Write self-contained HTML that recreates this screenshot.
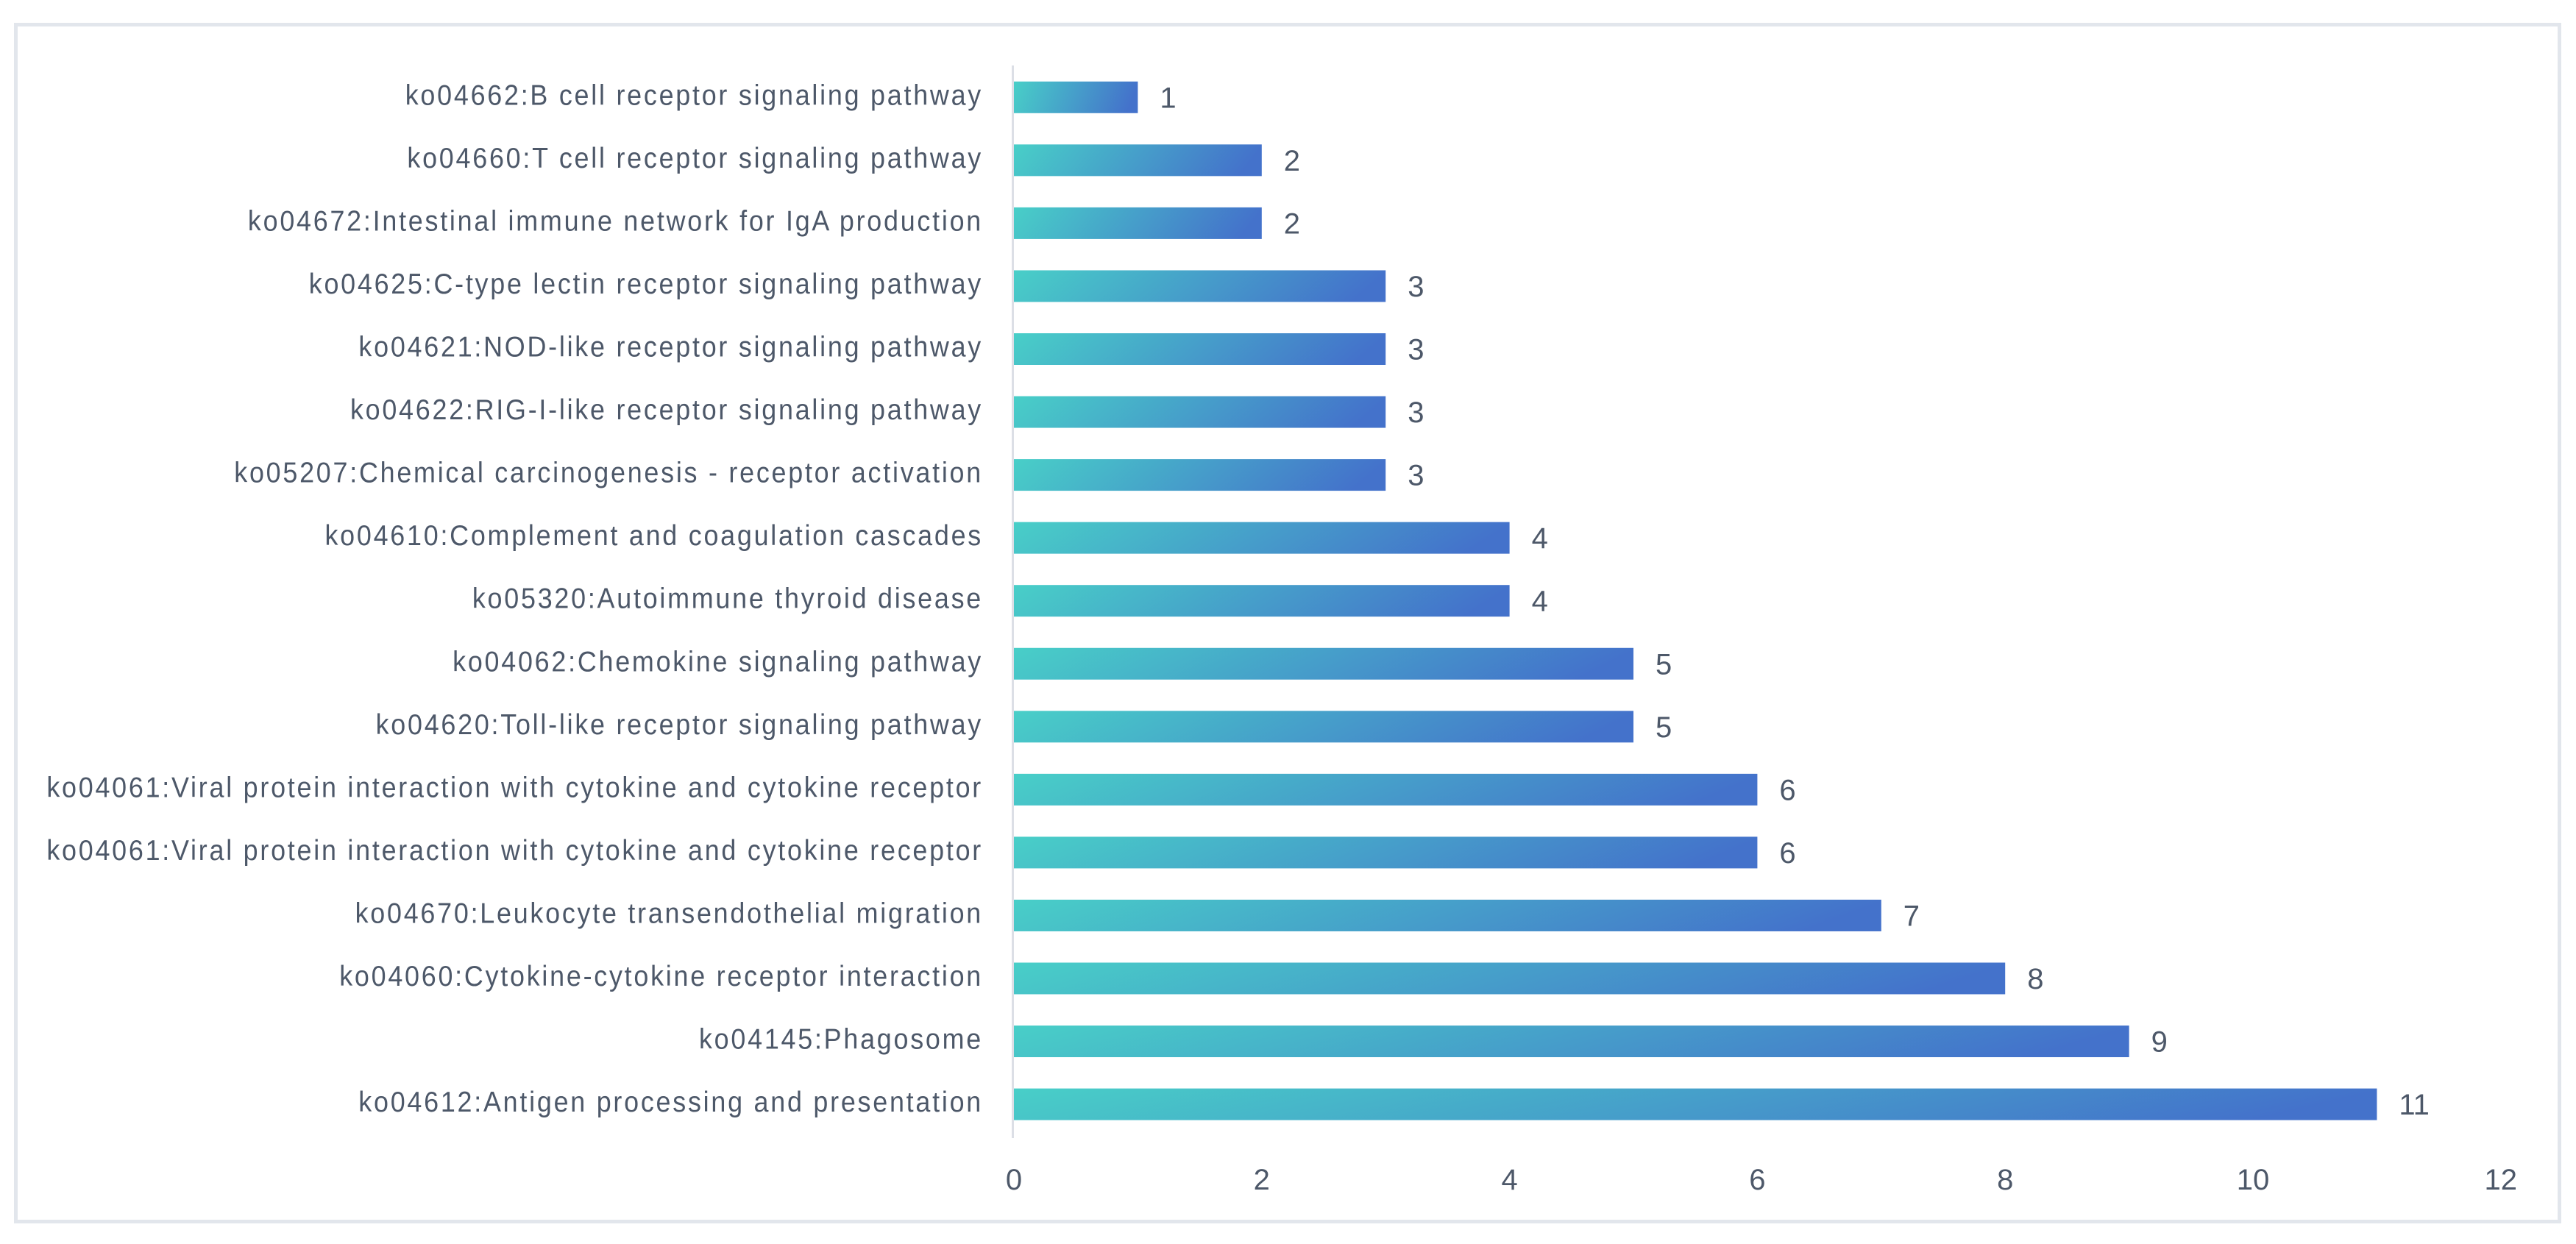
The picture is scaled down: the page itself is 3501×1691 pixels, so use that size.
<!DOCTYPE html>
<html lang="en">
<head>
<meta charset="utf-8">
<title>KEGG pathway bar chart</title>
<style>
html,body{margin:0;padding:0;background:#fff;width:3501px;height:1691px;overflow:hidden}
svg{display:block}
text{font-family:"Liberation Sans",sans-serif}
</style>
</head>
<body>
<svg id="chart" xmlns="http://www.w3.org/2000/svg" width="3501" height="1691" viewBox="0 0 3501 1691">
  <defs>
    <linearGradient id="barGradient" x1="0" y1="0" x2="1" y2="0.1">
      <stop offset="0" stop-color="#48cfc8"/>
      <stop offset="1" stop-color="#4472cb"/>
    </linearGradient>
  </defs>
  <rect x="21.5" y="33.5" width="3457" height="1627" fill="#fff" stroke="#e2e6ec" stroke-width="5"/>
  <g id="bars"></g>
  <g id="labels"></g>
  <g id="values"></g>
  <g id="ticks"></g>
  <rect x="1375" y="89" width="3" height="1458" fill="#dcdfe6"/>
</svg>
<script>
const categories = [
  "ko04662:B cell receptor signaling pathway",
  "ko04660:T cell receptor signaling pathway",
  "ko04672:Intestinal immune network for IgA production",
  "ko04625:C-type lectin receptor signaling pathway",
  "ko04621:NOD-like receptor signaling pathway",
  "ko04622:RIG-I-like receptor signaling pathway",
  "ko05207:Chemical carcinogenesis - receptor activation",
  "ko04610:Complement and coagulation cascades",
  "ko05320:Autoimmune thyroid disease",
  "ko04062:Chemokine signaling pathway",
  "ko04620:Toll-like receptor signaling pathway",
  "ko04061:Viral protein interaction with cytokine and cytokine receptor",
  "ko04061:Viral protein interaction with cytokine and cytokine receptor",
  "ko04670:Leukocyte transendothelial migration",
  "ko04060:Cytokine-cytokine receptor interaction",
  "ko04145:Phagosome",
  "ko04612:Antigen processing and presentation"
];
const values = [1, 2, 2, 3, 3, 3, 3, 4, 4, 5, 5, 6, 6, 7, 8, 9, 11];
const tickValues = [0, 2, 4, 6, 8, 10, 12];

const NS = "http://www.w3.org/2000/svg";
const X0 = 1378, UNIT = 168.4;
const Y0 = 132.3, BAND = 85.55, BAR_H = 43;
const TEXT = "#4d5869";
const xScale = v => X0 + v * UNIT;
const yScale = i => Y0 + i * BAND;

function make(tag, attrs, content) {
  const el = document.createElementNS(NS, tag);
  for (const k in attrs) el.setAttribute(k, attrs[k]);
  if (content !== undefined) el.textContent = content;
  return el;
}

const barsG = document.getElementById("bars");
const labelsG = document.getElementById("labels");
const valuesG = document.getElementById("values");
const ticksG = document.getElementById("ticks");

categories.forEach((name, i) => {
  const cy = yScale(i);
  const bar = make("rect", {x: X0, y: cy - BAR_H / 2, width: xScale(values[i]) - X0, height: BAR_H, fill: "url(#barGradient)"});
  
  
  barsG.appendChild(bar);

  const label = make("text", {transform: "translate(1336," + (cy + 10) + ") scale(0.92,1)", "text-anchor": "end", "font-size": 39, "letter-spacing": 3.0, fill: TEXT}, name);
  
  
  labelsG.appendChild(label);

  const val = make("text", {x: xScale(values[i]) + 30, y: cy + 14, "font-size": 40, fill: TEXT}, String(values[i]));
  
  
  valuesG.appendChild(val);
});

tickValues.forEach(t => {
  const tick = make("text", {x: xScale(t), y: 1617, "text-anchor": "middle", "font-size": 40, fill: TEXT}, String(t));
  
  
  ticksG.appendChild(tick);
});
</script>
</body>
</html>
